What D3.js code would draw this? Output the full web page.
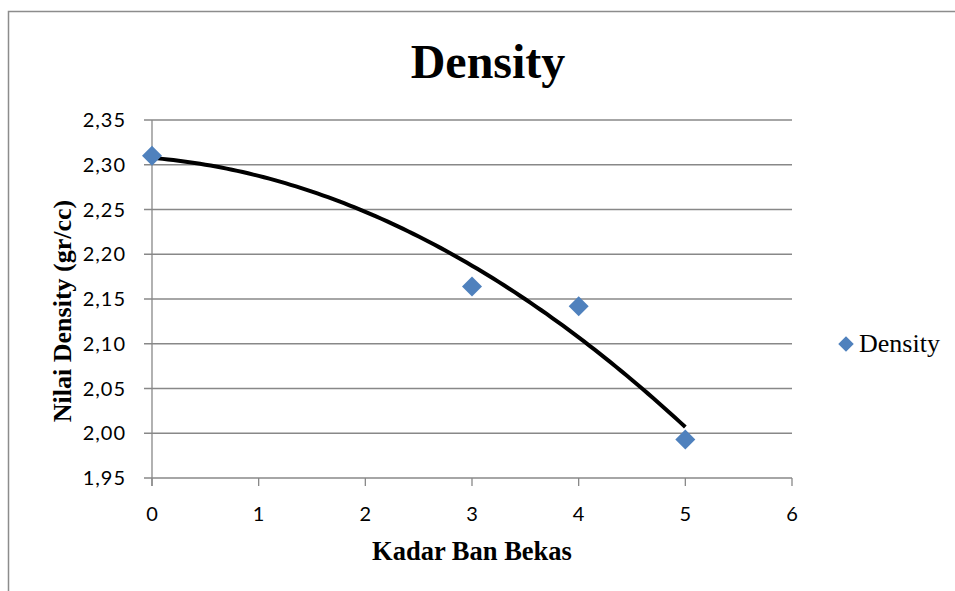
<!DOCTYPE html>
<html><head><meta charset="utf-8">
<script src="https://cdn.jsdelivr.net/npm/d3@7"></script>
<style>body{margin:0;background:#fff;} svg{display:block;}</style>
</head><body>
<script>
const xValues = [0, 3, 4, 5];
const yValues = [2.31, 2.164, 2.142, 1.993];
const seriesName = "Density";
const yTicks = [1.95, 2.00, 2.05, 2.10, 2.15, 2.20, 2.25, 2.30, 2.35];
const xTicks = [0, 1, 2, 3, 4, 5, 6];

const W = 955, H = 591;
const svg = d3.select("body").append("svg").attr("width", W).attr("height", H);
svg.append("rect").attr("x", 8.5).attr("y", 11.5).attr("width", 1000).attr("height", 700)
  .attr("fill", "none").attr("stroke", "#8c8c8c").attr("stroke-width", 1.5);

const x = d3.scaleLinear().domain([0, 6]).range([152, 792]);
const y = d3.scaleLinear().domain([1.95, 2.35]).range([478, 120]);
const fmt = v => v.toFixed(2).replace(".", ",");
const tickFont = "Lato, 'Open Sans', sans-serif";
const serif = "'Liberation Serif', 'Times New Roman', serif";

// gridlines
svg.append("g").selectAll("line").data(yTicks).join("line")
  .attr("x1", 144).attr("x2", 792).attr("y1", d => y(d)).attr("y2", d => y(d))
  .attr("stroke", "#888").attr("stroke-width", 1.3);

// y axis
svg.append("line").attr("x1", 152).attr("x2", 152).attr("y1", 120).attr("y2", 486)
  .attr("stroke", "#888").attr("stroke-width", 1.3);
svg.append("g").selectAll("text").data(yTicks).join("text")
  .attr("x", 126).attr("y", d => y(d) + 7).attr("text-anchor", "end")
  .attr("font-family", tickFont).attr("font-size", 20).attr("letter-spacing", 1)
  .text(fmt);

// x ticks
svg.append("g").selectAll("line").data(xTicks).join("line")
  .attr("x1", d => x(d)).attr("x2", d => x(d)).attr("y1", 478).attr("y2", 486)
  .attr("stroke", "#888").attr("stroke-width", 1.3);
svg.append("g").selectAll("text").data(xTicks).join("text")
  .attr("x", d => x(d)).attr("y", 521).attr("text-anchor", "middle")
  .attr("font-family", tickFont).attr("font-size", 20).text(d => d);

// quadratic trendline (least squares)
function polyfit2(xs, ys) {
  let S = [0,0,0,0,0], T = [0,0,0];
  xs.forEach((xv, i) => {
    for (let k = 0; k < 5; k++) S[k] += Math.pow(xv, k);
    for (let k = 0; k < 3; k++) T[k] += ys[i] * Math.pow(xv, k);
  });
  const A = [[S[0],S[1],S[2],T[0]],[S[1],S[2],S[3],T[1]],[S[2],S[3],S[4],T[2]]];
  for (let i = 0; i < 3; i++) {
    for (let j = i + 1; j < 3; j++) {
      const f = A[j][i] / A[i][i];
      for (let k = i; k < 4; k++) A[j][k] -= f * A[i][k];
    }
  }
  const c = [0,0,0];
  for (let i = 2; i >= 0; i--) {
    let s = A[i][3];
    for (let k = i + 1; k < 3; k++) s -= A[i][k] * c[k];
    c[i] = s / A[i][i];
  }
  return c;
}
const coef = polyfit2(xValues, yValues);
const xmin = d3.min(xValues), xmax = d3.max(xValues);
const trend = d3.range(0, 101).map(i => {
  const xv = xmin + (xmax - xmin) * i / 100;
  return [xv, coef[0] + coef[1] * xv + coef[2] * xv * xv];
});
svg.append("path").datum(trend)
  .attr("d", d3.line().x(d => x(d[0])).y(d => y(d[1])))
  .attr("fill", "none").attr("stroke", "#000").attr("stroke-width", 4);

// markers
svg.append("g").selectAll("path").data(xValues).join("path")
  .attr("d", d3.symbol().type(d3.symbolSquare).size(200)())
  .attr("transform", (d, i) => `translate(${x(d)},${y(yValues[i])}) rotate(45)`)
  .attr("fill", "#4F81BD");

// title
svg.append("text").attr("x", 488).attr("y", 78).attr("text-anchor", "middle")
  .attr("font-family", serif).attr("font-weight", "bold")
  .attr("font-size", 48).text("Density");

// axis titles
svg.append("text").attr("x", 472).attr("y", 560).attr("text-anchor", "middle")
  .attr("font-family", serif).attr("font-weight", "bold")
  .attr("font-size", 26.5).text("Kadar Ban Bekas");
svg.append("text").attr("transform", "translate(71,311) rotate(-90)").attr("text-anchor", "middle")
  .attr("font-family", serif).attr("font-weight", "bold")
  .attr("font-size", 26).text("Nilai Density (gr/cc)");

// legend
svg.append("path").attr("d", d3.symbol().type(d3.symbolSquare).size(120)())
  .attr("transform", "translate(846,344) rotate(45)").attr("fill", "#4F81BD");
svg.append("text").attr("x", 859).attr("y", 352)
  .attr("font-family", serif).attr("font-size", 26).text(seriesName);
</script>
</body></html>
